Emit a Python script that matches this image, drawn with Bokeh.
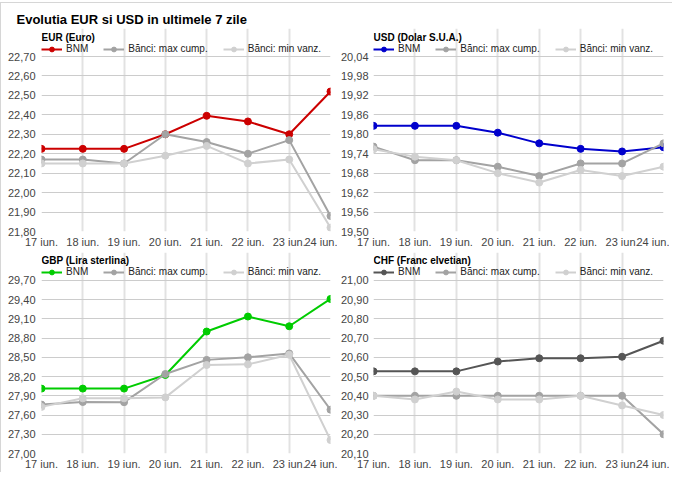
from bokeh.plotting import figure
from bokeh.layouts import gridplot, column
from bokeh.models import (Range1d, FixedTicker, CustomJSTickFormatter, Legend,
                          LegendItem, Label)
from bokeh.embed import file_html
from bokeh.resources import INLINE

# ---------------- data ----------------
days = ["17 iun.", "18 iun.", "19 iun.", "20 iun.", "21 iun.", "22 iun.", "23 iun.", "24 iun."]
series_names = ["BNM", "Bănci: max cump.", "Bănci: min vanz."]

eur_bnm = [22.225, 22.225, 22.225, 22.30, 22.395, 22.366, 22.30, 22.52]
eur_max = [22.17, 22.17, 22.15, 22.30, 22.26, 22.20, 22.27, 21.88]
eur_min = [22.15, 22.15, 22.15, 22.19, 22.24, 22.15, 22.17, 21.82]
eur_ticks = [21.80, 21.90, 22.00, 22.10, 22.20, 22.30, 22.40, 22.50, 22.60, 22.70]

usd_bnm = [19.826, 19.826, 19.826, 19.805, 19.772, 19.755, 19.747, 19.760]
usd_max = [19.762, 19.72, 19.72, 19.70, 19.671, 19.71, 19.71, 19.772]
usd_min = [19.754, 19.731, 19.72, 19.68, 19.651, 19.69, 19.671, 19.70]
usd_ticks = [19.50, 19.56, 19.62, 19.68, 19.74, 19.80, 19.86, 19.92, 19.98, 20.04]

gbp_bnm = [28.012, 28.012, 28.012, 28.225, 28.902, 29.136, 28.984, 29.41]
gbp_max = [27.763, 27.803, 27.80, 28.24, 28.46, 28.50, 28.56, 27.683]
gbp_min = [27.727, 27.86, 27.86, 27.875, 28.38, 28.39, 28.54, 27.21]
gbp_ticks = [27.00, 27.30, 27.60, 27.90, 28.20, 28.50, 28.80, 29.10, 29.40, 29.70]

chf_bnm = [20.527, 20.527, 20.527, 20.578, 20.595, 20.595, 20.603, 20.686]
chf_max = [20.40, 20.40, 20.40, 20.40, 20.40, 20.40, 20.40, 20.20]
chf_min = [20.40, 20.381, 20.422, 20.381, 20.381, 20.40, 20.35, 20.30]
chf_ticks = [20.10, 20.20, 20.30, 20.40, 20.50, 20.60, 20.70, 20.80, 20.90, 21.00]

main_title = "Evolutia EUR si USD in ultimele 7 zile"
panel_titles = ["EUR (Euro)", "USD (Dolar S.U.A.)", "GBP (Lira sterlina)", "CHF (Franc elvetian)"]
bnm_colors = ["#cc0000", "#0000cc", "#00cc00", "#555555"]
max_color = "#a3a3a3"
min_color = "#d0d0d0"

FONT = "Liberation Sans"
HEAD = 28  # pixels of the frame reserved above the top tick for title + legend


def make_panel(title, bnm, mx, mn, ticks, color, width, height, bl, br, bb, standoff):
    fh = height - bb            # frame height (min_border_top = 0)
    data_h = fh - HEAD          # pixels used by the tick range
    span = ticks[-1] - ticks[0]
    p = figure(width=width, height=height, output_backend="svg", toolbar_location=None,
               x_range=Range1d(0, len(days) - 1),
               y_range=Range1d(ticks[0], ticks[-1] + span * HEAD / data_h),
               min_border_left=bl, min_border_right=br, min_border_top=0, min_border_bottom=bb)
    p.title.visible = False
    p.outline_line_color = None
    p.background_fill_color = "white"
    p.border_fill_color = "white"
    xs = list(range(len(days)))
    rends = []
    for vals, col in ((bnm, color), (mx, max_color), (mn, min_color)):
        l = p.line(xs, vals, line_color=col, line_width=2)
        s = p.scatter(xs, vals, size=7, fill_color=col, line_color=col)
        rends.append([l, s])

    p.xaxis.ticker = FixedTicker(ticks=xs)
    p.xaxis.major_label_overrides = {i: d for i, d in enumerate(days)}
    p.yaxis.ticker = FixedTicker(ticks=ticks)
    p.yaxis.formatter = CustomJSTickFormatter(code="return tick.toFixed(2).replace('.', ',');")
    for ax in (p.xaxis, p.yaxis):
        ax.major_tick_out = 0
        ax.major_tick_in = 0
        ax.minor_tick_out = 0
        ax.minor_tick_in = 0
        ax.axis_line_color = None
        ax.major_label_text_font = FONT
        ax.major_label_text_font_size = "11px"
        ax.major_label_text_color = "#444444"
    p.yaxis.major_label_standoff = standoff
    p.xaxis.major_label_standoff = 4

    p.xgrid.grid_line_color = "#e2e2e2"
    p.xgrid.grid_line_width = 2
    p.xgrid.bounds = (ticks[0], ticks[-1])
    p.ygrid.grid_line_color = "#cccccc"
    p.ygrid.grid_line_width = 1

    legend = Legend(items=[LegendItem(label=n, renderers=r) for n, r in zip(series_names, rends)],
                    orientation="horizontal", location=(0, data_h + 1.5), margin=0, padding=0,
                    spacing=15, glyph_width=21, glyph_height=12, label_height=12,
                    label_standoff=4, label_text_font=FONT, label_text_font_size="10px",
                    label_text_color="#222222", border_line_color=None,
                    background_fill_alpha=0)
    p.add_layout(legend, "center")
    p.add_layout(Label(x=0, y=data_h + 18.7, x_units="screen", y_units="screen", text=title,
                       text_font=FONT, text_font_size="10px", text_font_style="bold",
                       text_color="#000000", text_baseline="alphabetic"))
    return p


# title strip
tfig = figure(width=671, height=25, output_backend="svg", toolbar_location=None,
              x_range=Range1d(0, 1), y_range=Range1d(0, 1),
              x_axis_location=None, y_axis_location=None, min_border=0)
tfig.title.visible = False
tfig.outline_line_color = None
tfig.grid.visible = False
tfig.add_layout(Label(x=15, y=9.5, x_units="screen", y_units="screen", text=main_title,
                      text_font=FONT, text_font_size="13px", text_font_style="bold",
                      text_color="#000000", text_baseline="alphabetic"))

p1 = make_panel(panel_titles[0], eur_bnm, eur_max, eur_min, eur_ticks, bnm_colors[0],
                336, 224, 40, 7, 21, 6)
p2 = make_panel(panel_titles[1], usd_bnm, usd_max, usd_min, usd_ticks, bnm_colors[1],
                332, 224, 36, 6, 21, 5)
p3 = make_panel(panel_titles[2], gbp_bnm, gbp_max, gbp_min, gbp_ticks, bnm_colors[2],
                336, 220, 40, 7, 18, 6)
p4 = make_panel(panel_titles[3], chf_bnm, chf_max, chf_min, chf_ticks, bnm_colors[3],
                332, 220, 36, 6, 18, 5)

grid = gridplot([[p1, p2], [p3, p4]], toolbar_location=None)
page = column(tfig, grid, styles={"margin-top": "2px",
                                  "border-top": "1px solid #d6d6d6",
                                  "border-left": "1px solid #d6d6d6"})

open("out.html", "w").write(file_html(page, INLINE))
